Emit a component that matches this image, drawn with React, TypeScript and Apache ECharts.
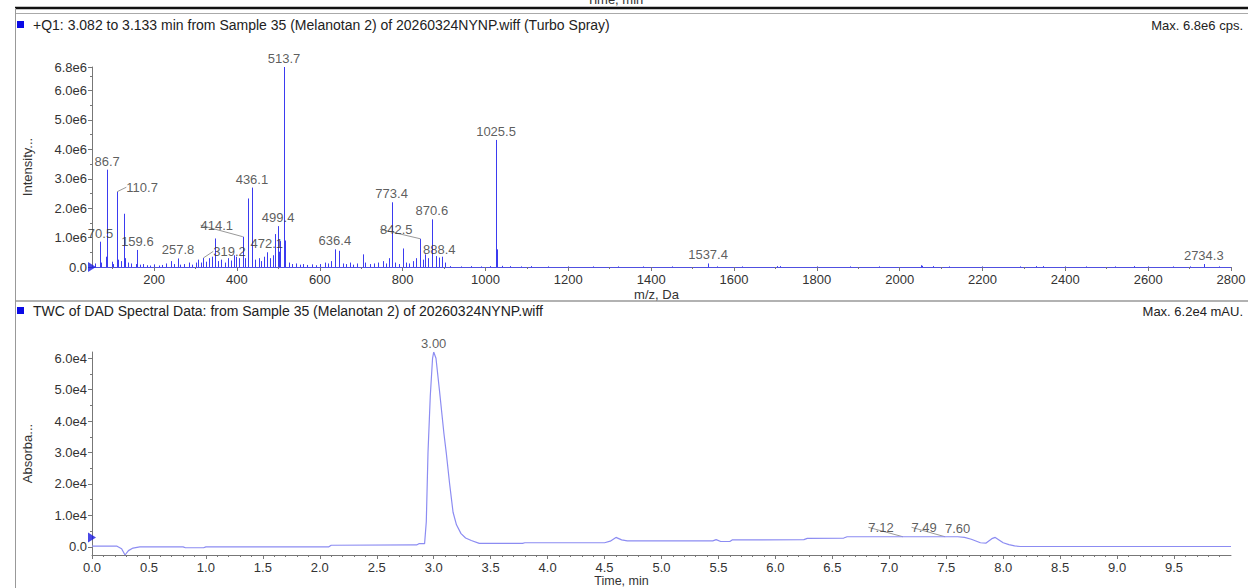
import React, { useEffect, useRef } from "react";
import * as echarts from "echarts";

const FONT = '"Liberation Sans", Arial, Helvetica, sans-serif';

// ---- Mass spectrum (m/z, intensity in cps) ----
const majorPeaks: [number, number][] = [
  [70.5, 860000], [86.7, 3310000], [110.7, 2560000], [126.1, 1810000],
  [159.6, 580000], [257.8, 290000], [319.2, 310000], [347.2, 970000],
  [414.1, 1030000], [426.2, 2330000], [436.1, 2700000], [437.1, 1200000],
  [472.1, 500000], [490.7, 1120000], [499.4, 1390000], [500.4, 520000],
  [505.1, 880000], [513.7, 6800000], [514.7, 3200000], [515.7, 900000],
  [636.4, 600000], [647.1, 550000], [703.1, 430000], [773.4, 2200000],
  [774.4, 700000], [800.2, 630000], [842.5, 960000], [853.1, 430000],
  [870.6, 1620000], [871.6, 500000], [880.1, 370000], [888.4, 320000],
  [895.1, 350000], [1025.5, 4320000], [1026.5, 2900000], [1027.5, 600000],
  [1537.4, 120000], [2734.3, 100000],
];

const lowMassNoise: [number, number][] = [
  [58.1, 120000], [72.1, 150000], [84.1, 350000], [98.1, 180000], [101.1, 100000],
  [112.1, 250000], [120.1, 200000], [130.1, 300000], [136.1, 150000], [143.1, 120000],
  [155.1, 100000], [166.1, 80000], [174.1, 100000], [183.1, 60000], [190.1, 50000],
  [199.1, 90000], [211.1, 50000], [220.1, 70000], [229.1, 120000], [240.1, 200000],
  [248.1, 100000], [263.1, 80000], [272.1, 100000], [285.1, 150000], [291.1, 80000],
  [300.1, 150000], [307.1, 250000], [312.1, 150000], [326.1, 180000], [333.1, 300000],
  [340.1, 350000], [355.1, 200000], [362.1, 250000], [370.1, 150000], [378.1, 300000],
  [385.1, 220000], [392.1, 400000], [398.1, 350000], [405.1, 300000], [419.1, 300000],
  [444.1, 250000], [452.1, 300000], [459.1, 200000], [466.1, 350000], [480.1, 300000],
  [486.1, 400000], [525.1, 150000], [533.1, 100000], [542.1, 120000], [551.1, 80000],
  [560.1, 100000], [570.1, 70000], [580.1, 90000], [590.1, 60000], [600.1, 100000],
  [612.1, 150000], [620.1, 120000], [628.1, 200000], [655.1, 120000], [663.1, 100000],
  [672.1, 150000], [680.1, 80000], [690.1, 120000], [710.1, 150000], [720.1, 100000],
  [731.1, 120000], [740.1, 150000], [752.1, 200000], [760.1, 120000], [766.1, 300000],
  [781.1, 150000], [790.1, 100000], [808.1, 150000], [816.1, 120000], [826.1, 200000],
  [833.1, 300000], [848.1, 250000], [862.1, 300000], [902.1, 150000],
];

const highMassNoise: [number, number][] = [
  [915, 30000], [940, 20000], [965, 30000], [990, 20000], [1010, 30000],
  [1040, 40000], [1060, 30000], [1085, 20000], [1110, 30000], [1150, 20000],
  [1200, 20000], [1260, 20000], [1320, 20000], [1380, 20000], [1450, 20000],
  [1560, 20000], [1620, 20000], [1705, 30000], [1712, 30000], [1800, 20000],
  [1880, 20000], [1950, 20000], [2051, 60000], [2055, 40000], [2080, 30000],
  [2120, 20000], [2200, 20000], [2290, 20000], [2330, 30000], [2345, 30000],
  [2400, 20000], [2450, 20000], [2520, 20000], [2565, 30000], [2600, 20000],
  [2660, 20000], [2700, 20000], [2770, 20000],
];

const spectrumLabelsCentered = [70.5, 86.7, 159.6, 257.8, 436.1, 472.1, 499.4, 513.7, 636.4, 773.4, 870.6, 888.4, 1025.5, 1537.4, 2734.3];
const spectrumLabelsShifted = [110.7, 319.2, 414.1, 842.5];
const spectrumShift: [number, number][] = [[25, 4], [26, 2], [-26, -3], [-24, -1]];

const spectrumXTicks = [200, 400, 600, 800, 1000, 1200, 1400, 1600, 1800, 2000, 2200, 2400, 2600, 2800];
const spectrumXMinor = [100, 300, 500, 700, 900, 1100, 1300, 1500, 1700, 1900, 2100, 2300, 2500, 2700];
const spectrumYTicks = [0, 1000000, 2000000, 3000000, 4000000, 5000000, 6000000, 6800000];
const spectrumYMinor = [500000, 1500000, 2500000, 3500000, 4500000, 5500000, 6500000];

// ---- DAD chromatogram (time min, absorbance mAU) ----
const chromatogram: [number, number][] = [
  [0.0, 200], [0.22, 200], [0.26, -600], [0.29, -2600], [0.32, -1200], [0.36, -400],
  [0.42, 0], [0.8, 0], [0.82, -300], [0.98, -300], [1.0, 0], [2.08, 0], [2.1, 500],
  [2.85, 600], [2.87, 1000], [2.92, 1000], [2.935, 8000], [2.95, 30000], [2.97, 48000],
  [2.99, 60000], [3.0, 62000], [3.02, 60000], [3.05, 50000], [3.09, 36000], [3.11, 30000],
  [3.14, 20000], [3.17, 11000], [3.2, 7000], [3.24, 4200], [3.28, 2800], [3.33, 2000],
  [3.4, 1100], [3.78, 1100], [3.8, 1300], [4.5, 1300], [4.55, 1800], [4.6, 3000],
  [4.65, 2200], [4.7, 1900], [5.45, 1900], [5.48, 2300], [5.52, 1700], [5.6, 1700],
  [5.62, 2200], [6.25, 2300], [6.28, 2700], [6.6, 2800], [6.63, 3200], [7.12, 3200],
  [7.49, 3200], [7.6, 3200], [7.66, 3000], [7.72, 2400], [7.8, 1300], [7.85, 1200],
  [7.9, 2600], [7.93, 3000], [8.0, 1300], [8.05, 700], [8.1, 300], [8.15, 100], [10.0, 100],
];
const chromLabelsCentered = [3.0, 7.6];
const chromLabelsShifted = [7.12, 7.49];
const chromShift: [number, number][] = [[-22, -1], [-21, -1]];

const chromXTicks = [0, 0.5, 1, 1.5, 2, 2.5, 3, 3.5, 4, 4.5, 5, 5.5, 6, 6.5, 7, 7.5, 8, 8.5, 9, 9.5];
const chromXMinor = [
  0.1, 0.2, 0.3, 0.4, 0.6, 0.7, 0.8, 0.9, 1.1, 1.2, 1.3, 1.4, 1.6, 1.7, 1.8, 1.9,
  2.1, 2.2, 2.3, 2.4, 2.6, 2.7, 2.8, 2.9, 3.1, 3.2, 3.3, 3.4, 3.6, 3.7, 3.8, 3.9,
  4.1, 4.2, 4.3, 4.4, 4.6, 4.7, 4.8, 4.9, 5.1, 5.2, 5.3, 5.4, 5.6, 5.7, 5.8, 5.9,
  6.1, 6.2, 6.3, 6.4, 6.6, 6.7, 6.8, 6.9, 7.1, 7.2, 7.3, 7.4, 7.6, 7.7, 7.8, 7.9,
  8.1, 8.2, 8.3, 8.4, 8.6, 8.7, 8.8, 8.9, 9.1, 9.2, 9.3, 9.4, 9.6, 9.7, 9.8, 9.9,
];
const chromYTicks = [0, 10000, 20000, 30000, 40000, 50000, 60000];
const chromYMinor = [5000, 15000, 25000, 35000, 45000, 55000];

const spectrumBaselineMarker: [number, number][] = [[50, 0]];
const chromBaselineMarker: [number, number][] = [[0, 3000]];

const allPeaks = [...majorPeaks, ...lowMassNoise, ...highMassNoise];
const findPeak = (mz: number): [number, number] => {
  const p = majorPeaks.find((d) => Math.abs(d[0] - mz) < 0.05);
  return p ? [p[0], p[1]] : [mz, 0];
};
const findChrom = (t: number): [number, number] => {
  const p = chromatogram.find((d) => Math.abs(d[0] - t) < 0.001);
  return p ? [p[0], p[1]] : [t, 0];
};

const TEXT = "#333";
const AXIS = "#777";
const STICK = "#3b3bf0";
const TRACE = "#8c8cf2";
const FS = 13;

function minorAxis(grid: number, min: number, max: number, values: number[], isY: boolean) {
  return {
    type: "value",
    gridIndex: grid,
    min,
    max,
    position: isY ? "left" : "bottom",
    axisLine: { show: false, onZero: false },
    axisLabel: { show: false },
    splitLine: { show: false },
    axisTick: { show: true, customValues: values, length: 2, lineStyle: { color: AXIS } },
  };
}

function mainAxis(grid: number, min: number, max: number, ticks: number[], fmt: (v: number) => string, isY: boolean, extra: any) {
  return {
    type: "value",
    gridIndex: grid,
    min,
    max,
    position: isY ? "left" : "bottom",
    axisLine: { show: true, onZero: false, lineStyle: { color: AXIS, width: 1 } },
    axisTick: { show: true, customValues: ticks, length: 4, lineStyle: { color: AXIS } },
    axisLabel: {
      customValues: ticks,
      formatter: fmt,
      color: TEXT,
      fontSize: FS,
      fontFamily: FONT,
      margin: isY ? 5 : 6,
    },
    splitLine: { show: false },
    ...extra,
  };
}

const fmtE = (exp: number) => (v: number) => (v === 0 ? "0.0" : (v / Math.pow(10, exp)).toFixed(1) + "e" + exp);

const triangle = "path://M0,0 L10,6 L0,12 Z";

const peakLabel = (digits: number) => ({
  show: true,
  position: "top",
  distance: 2,
  color: TEXT,
  fontSize: FS,
  fontFamily: FONT,
  formatter: (p: any) => p.value[0].toFixed(digits),
});

const option: any = {
  animation: false,
  textStyle: { fontFamily: FONT },
  grid: [
    { left: 92, right: 17, top: 67, height: 200, outerBoundsMode: "none" },
    { left: 92, right: 17, top: 352, height: 203, outerBoundsMode: "none" },
  ],
  xAxis: [
    mainAxis(0, 50, 2800, spectrumXTicks, (v) => String(v), false, {
      name: "m/z, Da",
      nameLocation: "middle",
      nameGap: 21,
      nameTextStyle: { color: TEXT, fontSize: FS, fontFamily: FONT, padding: [0, 10, 0, 0] },
      axisLine: { show: true, onZero: false, lineStyle: { color: "#5050e0", width: 1 } },
    }),
    minorAxis(0, 50, 2800, spectrumXMinor, false),
    mainAxis(1, 0, 10, chromXTicks, (v) => v.toFixed(1), false, {
      name: "Time, min",
      nameLocation: "middle",
      nameGap: 18,
      nameTextStyle: { color: TEXT, fontSize: 12.5, fontFamily: FONT, padding: [0, 80, 0, 0] },
    }),
    minorAxis(1, 0, 10, chromXMinor, false),
  ],
  yAxis: [
    mainAxis(0, 0, 6800000, spectrumYTicks, fmtE(6), true, {
      name: "Intensity...",
      nameLocation: "middle",
      nameGap: 58,
      nameTextStyle: { color: TEXT, fontSize: FS, fontFamily: FONT },
    }),
    minorAxis(0, 0, 6800000, spectrumYMinor, true),
    mainAxis(1, -2600, 62000, chromYTicks, fmtE(4), true, {
      name: "Absorba...",
      nameLocation: "middle",
      nameGap: 58,
      nameTextStyle: { color: TEXT, fontSize: FS, fontFamily: FONT },
    }),
    minorAxis(1, -2600, 62000, chromYMinor, true),
  ],
  series: [
    {
      type: "custom",
      name: "spectrum",
      xAxisIndex: 0,
      yAxisIndex: 0,
      silent: true,
      clip: true,
      data: allPeaks,
      encode: { x: 0, y: 1 },
      renderItem: (params: any, api: any) => {
        const x = api.value(0);
        const y = api.value(1);
        const p0 = api.coord([x, 0]);
        const p1 = api.coord([x, y]);
        const px = Math.round(p0[0]) + 0.5;
        return {
          type: "line",
          shape: { x1: px, y1: p0[1], x2: px, y2: p1[1] },
          style: { stroke: STICK, lineWidth: 1 },
        };
      },
    },
    {
      type: "scatter",
      xAxisIndex: 0,
      yAxisIndex: 0,
      symbolSize: 0,
      silent: true,
      data: spectrumLabelsCentered.map(findPeak),
      label: peakLabel(1),
    },
    {
      type: "scatter",
      xAxisIndex: 0,
      yAxisIndex: 0,
      symbolSize: 0,
      silent: true,
      data: spectrumLabelsShifted.map(findPeak),
      label: peakLabel(1),
      labelLine: { show: true, lineStyle: { color: "#999", width: 1 } },
      labelLayout: (p: any) => {
        const s = spectrumShift[p.dataIndex];
        return { dx: s[0], dy: s[1] };
      },
    },
    {
      type: "scatter",
      xAxisIndex: 0,
      yAxisIndex: 0,
      symbol: triangle,
      symbolSize: [8, 10],
      clip: false,
      silent: true,
      itemStyle: { color: "#1a1ae0" },
      data: spectrumBaselineMarker,
    },
    {
      type: "line",
      xAxisIndex: 2,
      yAxisIndex: 2,
      showSymbol: false,
      silent: true,
      data: chromatogram,
      lineStyle: { color: TRACE, width: 1.2 },
      itemStyle: { color: TRACE },
    },
    {
      type: "scatter",
      xAxisIndex: 2,
      yAxisIndex: 2,
      symbolSize: 0,
      silent: true,
      data: chromLabelsCentered.map(findChrom),
      label: peakLabel(2),
    },
    {
      type: "scatter",
      xAxisIndex: 2,
      yAxisIndex: 2,
      symbolSize: 0,
      silent: true,
      data: chromLabelsShifted.map(findChrom),
      label: peakLabel(2),
      labelLine: { show: true, lineStyle: { color: "#999", width: 1 } },
      labelLayout: (p: any) => {
        const s = chromShift[p.dataIndex];
        return { dx: s[0], dy: s[1] };
      },
    },
    {
      type: "scatter",
      xAxisIndex: 2,
      yAxisIndex: 2,
      symbol: triangle,
      symbolSize: [8, 10],
      clip: false,
      silent: true,
      itemStyle: { color: "#1a1ae0" },
      data: chromBaselineMarker,
    },
  ],
  graphic: [
    { type: "text", x: 615, y: -7, silent: true, style: { text: "Time, min", fontSize: FS, fontFamily: FONT, fill: TEXT, align: "center", verticalAlign: "top" } },
    { type: "line", silent: true, shape: { x1: 15, y1: 8, x2: 1248, y2: 8 }, style: { stroke: "#111", lineWidth: 2.5 } },
    { type: "line", silent: true, shape: { x1: 15, y1: 13.5, x2: 1248, y2: 13.5 }, style: { stroke: "#aaa", lineWidth: 1 } },
    { type: "line", silent: true, shape: { x1: 15.5, y1: 8, x2: 15.5, y2: 588 }, style: { stroke: "#999", lineWidth: 1 } },
    { type: "line", silent: true, shape: { x1: 15, y1: 301, x2: 1248, y2: 301 }, style: { stroke: "#999", lineWidth: 1.5 } },
    { type: "rect", silent: true, shape: { x: 17, y: 21, width: 7, height: 7 }, style: { fill: "#0a0ae6" } },
    { type: "text", x: 33, y: 25, silent: true, style: { text: "+Q1: 3.082 to 3.133 min from Sample 35 (Melanotan 2) of 20260324NYNP.wiff (Turbo Spray)", fontSize: 14, fontFamily: FONT, fill: "#222", align: "left", verticalAlign: "middle" } },
    { type: "text", x: 1243, y: 25, silent: true, style: { text: "Max. 6.8e6 cps.", fontSize: 13, fontFamily: FONT, fill: "#222", align: "right", verticalAlign: "middle" } },
    { type: "rect", silent: true, shape: { x: 17, y: 307, width: 7, height: 7 }, style: { fill: "#0a0ae6" } },
    { type: "text", x: 33, y: 311, silent: true, style: { text: "TWC of DAD Spectral Data: from Sample 35 (Melanotan 2) of 20260324NYNP.wiff", fontSize: 14, fontFamily: FONT, fill: "#222", align: "left", verticalAlign: "middle" } },
    { type: "text", x: 1243, y: 311, silent: true, style: { text: "Max. 6.2e4 mAU.", fontSize: 13, fontFamily: FONT, fill: "#222", align: "right", verticalAlign: "middle" } },
  ],
};

export default function App() {
  const ref = useRef<HTMLDivElement>(null);
  useEffect(() => {
    document.body.style.margin = "0";
    const chart = echarts.init(ref.current as HTMLDivElement, null, { renderer: "svg" });
    chart.setOption(option);
    return () => chart.dispose();
  }, []);
  return <div ref={ref} style={{ width: 1248, height: 588, background: "#fff" }} />;
}
